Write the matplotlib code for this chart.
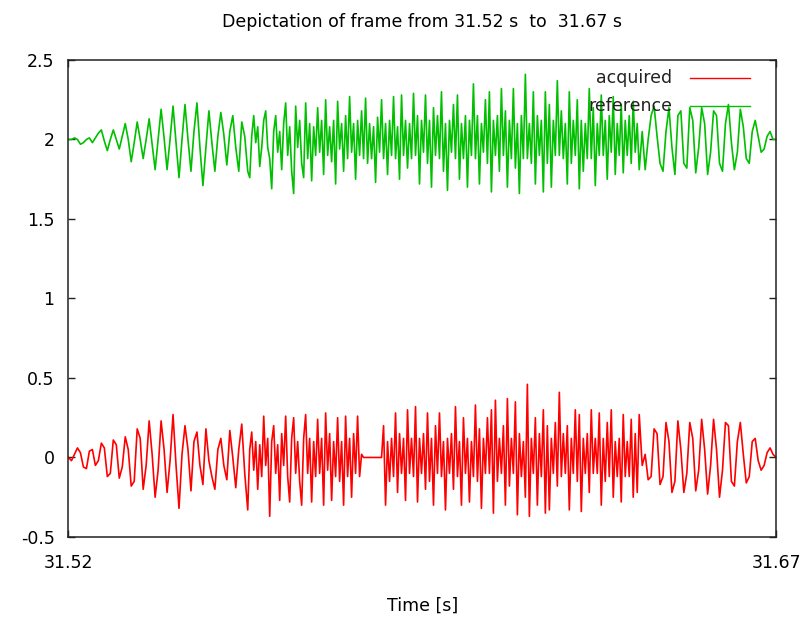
import matplotlib
matplotlib.use('Agg')
import matplotlib.pyplot as plt
import numpy as np

plt.rcParams['font.family'] = ['DejaVu Sans']

# time range of the frame
t_start = 31.52
t_end = 31.67
# the middle of the frame is much denser, so it is read at a finer step
burst_start = 31.558
burst_end = 31.641

# acquired signal, three pieces: start, burst, end
acquired_start = [
    0.00, -0.02, 0.02, 0.06, 0.03, -0.06, -0.07, 0.04, 0.05, -0.05,
    -0.02, 0.09, 0.06, -0.12, -0.10, 0.11, 0.08, -0.13, -0.06, 0.13,
    0.05, -0.18, -0.15, 0.18, 0.12, -0.20, -0.05, 0.23, 0.02, -0.25,
    -0.08, 0.23, 0.05, -0.22, -0.02, 0.27, -0.05, -0.32, 0.02, 0.20,
    0.05, -0.21, 0.10, 0.16, -0.05, -0.17, 0.18, -0.02, -0.12, -0.20,
    0.05, 0.12, -0.05, -0.14, 0.17, 0.00, -0.19, 0.05, 0.21, -0.10,
]
acquired_burst = [
    -0.33, 0.05, 0.16, -0.08, 0.10, -0.20, 0.08, -0.12, 0.26, -0.05,
    0.12, -0.37, 0.10, 0.20, -0.10, 0.08, -0.27, 0.15, -0.05, 0.26,
    -0.12, -0.28, 0.12, 0.25, -0.10, 0.10, -0.15, -0.30, 0.12, 0.27,
    -0.10, 0.12, -0.28, 0.10, -0.12, 0.24, -0.10, 0.12, -0.30, 0.28,
    -0.08, 0.15, -0.27, 0.10, -0.12, 0.25, -0.15, 0.10, -0.30, 0.26,
    -0.12, 0.12, -0.25, 0.15, -0.10, 0.26, -0.12, 0.02, 0.00, 0.00,
    0.00, 0.00, 0.00, 0.00, 0.00, 0.00, 0.00, 0.00, 0.20, -0.30,
    0.10, -0.15, 0.12, -0.12, 0.28, -0.22, 0.15, -0.10, 0.12, -0.27,
    0.30, -0.10, 0.12, -0.12, 0.32, -0.28, 0.12, -0.10, 0.15, -0.20,
    0.28, -0.15, 0.12, -0.30, 0.20, -0.10, 0.28, -0.12, 0.10, -0.33,
    0.12, -0.10, 0.15, -0.20, 0.32, -0.12, 0.10, -0.30, 0.25, -0.10,
    0.12, -0.28, 0.10, -0.12, 0.33, -0.15, 0.18, -0.32, 0.12, -0.10,
    0.25, -0.10, 0.30, -0.35, 0.36, -0.15, 0.12, -0.10, 0.20, -0.30,
    0.37, -0.18, 0.12, -0.10, 0.35, -0.36, 0.15, -0.12, 0.10, -0.25,
    0.46, -0.37, 0.12, -0.10, 0.25, -0.30, 0.15, -0.12, 0.30, -0.35,
    0.20, -0.33, 0.12, -0.10, 0.22, -0.18, 0.41, -0.12, 0.15, -0.10,
    0.20, -0.33, 0.12, -0.10, 0.30, -0.15, 0.27, -0.34, 0.12, -0.10,
    0.15, -0.22, 0.30, -0.10, 0.12, -0.10, 0.28, -0.30, 0.12, -0.15,
    0.22, -0.12, 0.30, -0.25, 0.10, -0.12, 0.12, -0.28, 0.27, -0.12,
    0.10, -0.12, 0.24, -0.25, 0.15, -0.22, 0.27,
]
acquired_end = [
    -0.05, 0.02, -0.14, -0.12, 0.18, 0.15, -0.17, -0.12, 0.22,
    0.10, -0.22, -0.15, 0.23, 0.05, -0.22, -0.10, 0.22, 0.12, -0.21,
    -0.08, 0.24, 0.05, -0.23, -0.05, 0.24, 0.05, -0.25, -0.08, 0.22,
    0.20, -0.15, -0.18, 0.10, 0.22, 0.02, -0.16, -0.12, 0.10, 0.12,
    -0.02, -0.08, -0.05, 0.03, 0.06, 0.02, 0.00,
]

# reference signal, plotted shifted up by 2
reference_start = [
    0.00, 0.00, 0.01, 0.00, -0.03, -0.02, 0.00, 0.01, -0.02, 0.01,
    0.04, 0.06, -0.01, -0.07, 0.00, 0.06, 0.00, -0.06, 0.02, 0.10,
    0.00, -0.14, -0.02, 0.11, 0.00, -0.12, 0.00, 0.13, -0.03, -0.19,
    0.00, 0.19, 0.01, -0.19, 0.00, 0.21, -0.02, -0.24, 0.00, 0.22,
    0.00, -0.20, 0.05, 0.23, -0.05, -0.29, -0.05, 0.18, -0.02, -0.20,
    0.02, 0.17, 0.03, -0.16, 0.05, 0.15, -0.05, -0.20, 0.11, 0.02,
]
reference_burst = [
    -0.20, -0.24, 0.02, 0.15, -0.02, 0.08, -0.17, -0.05, 0.12, 0.18,
    -0.05, -0.12, -0.31, 0.05, 0.15, -0.08, 0.05, -0.19, 0.10, 0.23,
    -0.10, 0.08, -0.20, -0.34, 0.21, -0.05, 0.12, -0.15, -0.24, 0.23,
    -0.12, 0.10, -0.26, 0.08, -0.10, 0.20, -0.08, 0.12, -0.22, 0.25,
    -0.10, 0.08, -0.14, 0.12, -0.28, 0.24, -0.06, 0.10, -0.20, 0.15,
    -0.12, 0.27, -0.08, 0.10, -0.25, 0.12, -0.10, 0.18, -0.12, 0.26,
    -0.15, 0.10, -0.12, 0.08, -0.27, 0.14, -0.08, 0.25, -0.12, 0.10,
    -0.22, 0.12, -0.10, 0.27, -0.12, 0.08, -0.25, 0.28, -0.10, 0.12,
    -0.18, 0.10, -0.12, 0.29, -0.10, 0.15, -0.28, 0.12, -0.08, 0.28,
    -0.15, 0.12, -0.30, 0.20, -0.10, 0.15, -0.12, 0.30, -0.20, 0.10,
    -0.32, 0.12, -0.08, 0.22, -0.12, 0.28, -0.25, 0.10, -0.12, 0.15,
    -0.30, 0.12, -0.10, 0.35, -0.12, 0.15, -0.28, 0.10, -0.08, 0.25,
    -0.15, 0.30, -0.33, 0.12, -0.10, 0.15, -0.20, 0.32, -0.10, 0.18,
    -0.30, 0.12, -0.12, 0.32, -0.18, 0.10, -0.34, 0.15, -0.12, 0.41,
    -0.12, 0.10, -0.15, 0.30, -0.28, 0.15, -0.10, 0.12, -0.33, 0.30,
    -0.15, 0.22, -0.30, 0.12, -0.10, 0.37, -0.10, 0.18, -0.12, 0.10,
    -0.28, 0.30, -0.15, 0.12, -0.10, 0.25, -0.31, 0.12, -0.20, 0.10,
    -0.12, 0.32, -0.12, 0.20, -0.29, 0.10, -0.10, 0.28, -0.10, 0.12,
    -0.25, 0.15, -0.08, 0.27, -0.22, 0.10, -0.10, 0.22, -0.21, 0.12,
    -0.10, 0.15, -0.15, 0.24, -0.08, 0.10, -0.19,
]
reference_end = [
    0.05, -0.19, 0.00, 0.15, 0.21, 0.02, -0.15, -0.20, 0.05,
    0.20, -0.05, -0.22, 0.15, 0.18, -0.15, -0.18, 0.20, 0.12, -0.21,
    -0.05, 0.20, 0.10, -0.22, -0.08, 0.18, 0.15, -0.15, -0.20, 0.10,
    0.22, -0.02, -0.19, -0.08, 0.19, 0.08, -0.12, -0.15, 0.05, 0.12,
    0.02, -0.08, -0.06, 0.02, 0.05, 0.00, 0.00,
]
reference_offset = 2.0

y_ticks = [-0.5, 0, 0.5, 1, 1.5, 2, 2.5]
y_labels = ['-0.5', '0', '0.5', '1', '1.5', '2', '2.5']


def time_axis(start, burst, end):
    step_a = (burst_start - t_start) / len(start)
    step_c = (t_end - burst_end) / len(end)
    return np.concatenate([
        np.linspace(t_start, burst_start - step_a, len(start)),
        np.linspace(burst_start, burst_end, len(burst)),
        np.linspace(burst_end + step_c, t_end, len(end)),
    ])


t_acq = time_axis(acquired_start, acquired_burst, acquired_end)
acquired = np.array(acquired_start + acquired_burst + acquired_end)
t_ref = time_axis(reference_start, reference_burst, reference_end)
reference = np.array(reference_start + reference_burst + reference_end)

fig = plt.figure(figsize=(8.02, 6.17), dpi=100)
ax = fig.add_axes([0.0854, 0.1297, 0.8822, 0.7731])

ax.plot(t_acq, acquired, color='#ff0000', lw=1.2)
ax.plot(t_ref, reference + reference_offset, color='#00c000', lw=1.2)

ax.set_xlim(t_start, t_end)
ax.set_ylim(-0.5, 2.5)
ax.set_xticks([t_start, t_end])
ax.set_xticklabels(['31.52', '31.67'])
ax.set_yticks(y_ticks)
ax.set_yticklabels(y_labels)
ax.tick_params(direction='in', length=5, width=1, labelsize=12.5,
               top=True, right=True, color='#222222')
ax.tick_params(axis='x', pad=12)
ax.tick_params(axis='y', pad=10)
for s in ax.spines.values():
    s.set_linewidth(1.1)
    s.set_color('#222222')

ax.set_title('Depictation of frame from 31.52 s  to  31.67 s', fontsize=12.5, pad=24)
ax.set_xlabel('Time [s]', fontsize=12.5, labelpad=18)

# gnuplot-style key: right-aligned text with line sample after it
key = [('acquired', '#ff0000', 0.962), ('reference', '#00c000', 0.904)]
for name, col, ky in key:
    ax.text(0.853, ky, name, transform=ax.transAxes, ha='right', va='center',
            fontsize=12.5, color='#222222', zorder=5)
    ax.plot([0.878, 0.963], [ky, ky], transform=ax.transAxes, color=col,
            lw=1.0, zorder=5)

fig.savefig('out.png', dpi=100)
